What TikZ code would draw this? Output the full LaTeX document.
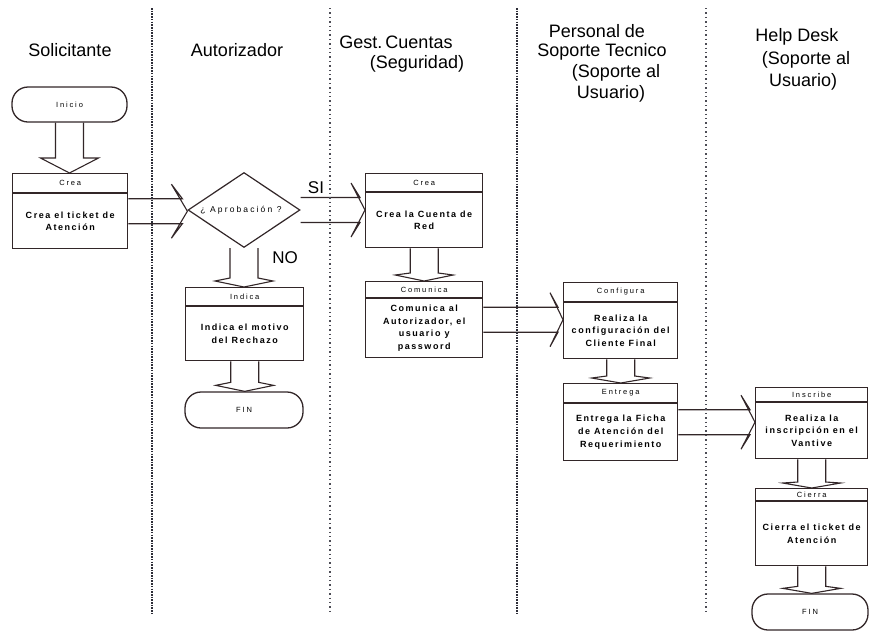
\documentclass[tikz,border=0pt]{standalone}
\usepackage{fontspec}
\setmainfont{Liberation Sans}
\usetikzlibrary{shapes.geometric,calc}

\definecolor{ink}{RGB}{50,38,40}
\definecolor{laneink}{RGB}{45,45,55}

\tikzset{
  lanetitle/.style={font=\fontsize{18}{21}\selectfont, inner sep=0pt, text=black},
  stepbox/.style={draw=ink, line width=1.4pt, fill=white, rectangle, inner sep=0pt},
  terminal/.style={draw=ink, line width=1.3pt, fill=white, rounded corners=16pt, inner sep=0pt},
  decision/.style={draw=ink, line width=1.2pt, fill=white, diamond, inner sep=0pt},
  smalltext/.style={font=\fontsize{7.5}{8}\selectfont\addfontfeature{LetterSpace=25}},
  boxhead/.style={smalltext, inner sep=0pt},
  boxbody/.style={font=\fontsize{9}{12.8}\selectfont\bfseries\addfontfeature{LetterSpace=17}, align=center, inner sep=0pt},
  branch/.style={font=\fontsize{17}{20}\selectfont, inner sep=0pt},
  blockarrow/.style={draw=ink, line width=1.1pt, line join=miter},
  heavylane/.style={draw=laneink, line width=1.7pt, dash pattern=on 1.6pt off 1.1pt},
  lightlane/.style={draw=laneink!85, line width=1.3pt, dash pattern=on 1.4pt off 3pt},
}

% process box: name, x, y (north west), width, height, header height, header, body
\newcommand{\procbox}[8]{%
  \node[stepbox, anchor=north west, minimum width=#4pt, minimum height=#5pt] (#1) at (#2,#3) {};
  \coordinate (#1-hl) at ($(#1.north west)+(0,#6)$);
  \coordinate (#1-hr) at ($(#1.north east)+(0,#6)$);
  \draw[ink, line width=1.2pt] (#1-hl) -- (#1-hr);
  \node[boxhead] (#1-title) at ($(#1.north)+(0,#6/2)$) {#7};
  \node[boxbody] (#1-text) at ($(#1-hl)!0.5!(#1.south east)$) {#8};
}

% downward block arrow: shaft-end offset, barb offset, from, to
\newcommand{\downblock}[4]{%
  \draw[blockarrow] let \p1=(#3), \p2=(#4) in
    (\x1-14pt,\y1) -- (\x1-14pt,\y2+#1pt) -- (\x1-29pt,\y2+#2pt) -- (\x1,\y2)
    -- (\x1+29pt,\y2+#2pt) -- (\x1+14pt,\y2+#1pt) -- (\x1+14pt,\y1);
}

% rightward block arrow: shaft-end offset, barb offset, from, to
\newcommand{\rightblock}[4]{%
  \draw[blockarrow] let \p1=(#3), \p2=(#4) in
    (\x1,\y1+12.5pt) -- (\x2-#1pt,\y1+12.5pt) -- (\x2-#2pt,\y1+27pt) -- (\x2,\y1)
    -- (\x2-#2pt,\y1-27pt) -- (\x2-#1pt,\y1-12.5pt) -- (\x1,\y1-12.5pt);
}

\begin{document}
\begin{tikzpicture}[x=1pt,y=-1pt]
\useasboundingbox (0,0) rectangle (869,633);

% lane titles
\node[lanetitle] (t1) at (70,50) {Solicitante};
\node[lanetitle] (t2) at (237,50) {Autorizador};
\node[lanetitle] (t3a) at (396,42) {Gest.\,Cuentas};
\node[lanetitle] (t3b) at (417,64) {(Seguridad)};
\node[lanetitle] (t4a) at (597,31) {Personal de};
\node[lanetitle] (t4b) at (602,52) {Soporte Tecnico};
\node[lanetitle] (t4c) at (616,73) {(Soporte al};
\node[lanetitle] (t4d) at (611,94) {Usuario)};
\node[lanetitle] (t5a) at (797,37) {Help Desk};
\node[lanetitle] (t5b) at (806,60) {(Soporte al};
\node[lanetitle] (t5c) at (803,82) {Usuario)};

% Solicitante
\node[terminal, smalltext, minimum width=115pt, minimum height=35pt] (inicio) at (69.5,104.5) {Inicio};
\procbox{crea1}{12}{173}{115}{75}{20}{Crea}{Crea el ticket de\\Atención}

% Autorizador
\node[decision, minimum width=112pt, minimum height=75pt] (aprob) at (244,210) {};
\node[inner sep=0pt, font=\fontsize{8.5}{9}\selectfont\addfontfeature{LetterSpace=25}] (aprob-text) at (241,210) {¿ Aprobación ?};
\procbox{indica}{185}{287}{118}{73}{19}{Indica}{Indica el motivo\\del Rechazo}
\node[terminal, smalltext, minimum width=118pt, minimum height=36pt] (fin1) at (244,410) {FIN};

% Gest. Cuentas
\procbox{crea2}{365}{173}{117}{74}{19}{Crea}{Crea la Cuenta de\\Red}
\procbox{comunica}{365}{281}{117}{76}{17}{Comunica}{Comunica al\\Autorizador, el\\usuario y\\password}

% Soporte Tecnico
\procbox{configura}{563}{282}{114}{76}{20}{Configura}{Realiza la\\configuración del\\Cliente Final}
\procbox{entrega}{563}{383}{114}{77}{20}{Entrega}{Entrega la Ficha\\de Atención del\\Requerimiento}

% Help Desk
\procbox{inscribe}{755}{387}{112}{71}{15}{Inscribe}{Realiza la\\inscripción en el\\Vantive}
\procbox{cierra}{755}{488}{112}{77}{13}{Cierra}{Cierra el ticket de\\Atención}
\node[terminal, smalltext, minimum width=116pt, minimum height=36pt] (fin2) at (810,612) {FIN};

% block arrows between steps
\downblock{15}{15}{inicio.south}{crea1.north}
\rightblock{5}{16}{crea1.east}{aprob.west}
\rightblock{5}{14}{aprob.east}{crea2.west}
\downblock{9}{6}{aprob.south}{indica.north}
\downblock{9}{6}{indica.south}{fin1.north}
\downblock{8}{6}{crea2.south}{comunica.north}
\rightblock{5}{13}{comunica.east}{configura.west}
\downblock{7}{5}{configura.south}{entrega.north}
\rightblock{5}{14}{entrega.east}{inscribe.west}
\downblock{6}{5}{inscribe.south}{cierra.north}
\downblock{7}{5}{cierra.south}{fin2.north}

% branch labels
\node[branch] (si) at (316,188) {SI};
\node[branch] (no) at (285,258) {NO};

% lane dividers
\draw[heavylane] (152,8) -- (152,615);
\draw[lightlane] (330,8) -- (330,615);
\draw[heavylane] (517,8) -- (517,615);
\draw[lightlane] (706,8) -- (706,615);
\end{tikzpicture}
\end{document}
